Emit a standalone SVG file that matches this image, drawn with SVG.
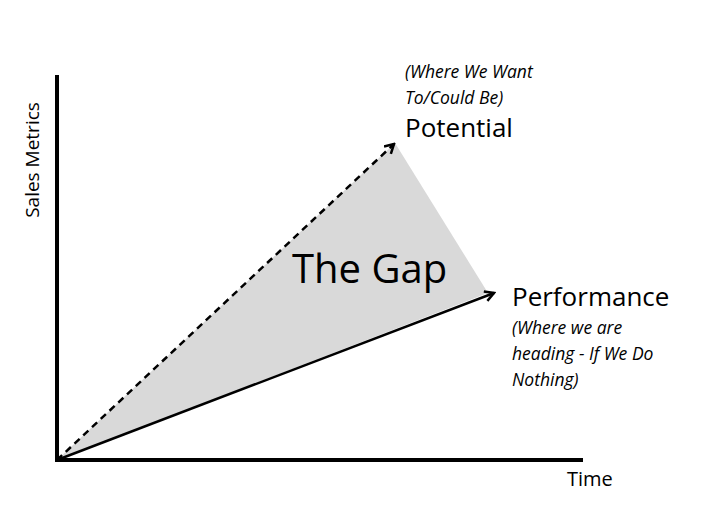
<svg xmlns="http://www.w3.org/2000/svg" width="719" height="526" viewBox="0 0 719 526">
<style>
text{font-family:"Open Sans","Liberation Sans",sans-serif;fill:#000}
.it{font-style:italic;font-size:17.5px}
.big{font-size:26px}
</style>
<defs>
<marker id="ah" markerWidth="12" markerHeight="12" refX="10" refY="6" orient="auto" markerUnits="userSpaceOnUse">
<path d="M1,1 L10,6 L1,11" fill="none" stroke="#000" stroke-width="2.5"/>
</marker>
</defs>
<rect width="719" height="526" fill="#fff"/>
<g id="gap"><polygon points="57,460 395,143 488,293" fill="#d9d9d9"/>
<text x="292" y="283" font-size="40">The Gap</text></g>
<g id="axes" stroke="#000" stroke-width="4" fill="none">
<line x1="57" y1="75" x2="57" y2="462"/>
<line x1="55" y1="460" x2="583" y2="460"/>
</g>
<g id="connectors" stroke="#000" stroke-width="2.5" fill="none">
<line x1="57" y1="460" x2="394" y2="144" stroke-dasharray="7,5" marker-end="url(#ah)"/>
<line x1="57" y1="460" x2="494" y2="293" marker-end="url(#ah)"/>
</g>
<g id="labels">
<text transform="translate(39,160) rotate(-90)" text-anchor="middle" font-size="19">Sales Metrics</text>
<text x="567" y="486" font-size="20">Time</text>
<text class="it" x="405" y="78">(Where We Want</text>
<text class="it" x="405" y="104">To/Could Be)</text>
<text class="big" x="405" y="137">Potential</text>
<text class="big" x="512" y="306">Performance</text>
<text class="it" x="512" y="334">(Where we are</text>
<text class="it" x="512" y="360">heading - If We Do</text>
<text class="it" x="512" y="386">Nothing)</text>
</g>
</svg>
